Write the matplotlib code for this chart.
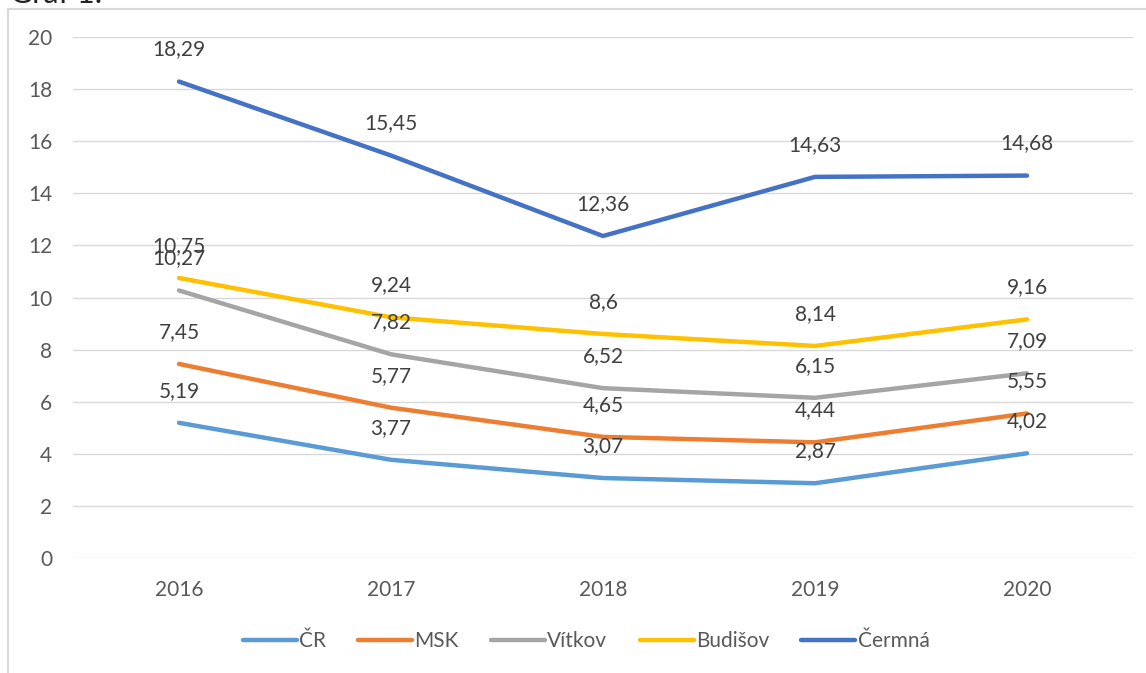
import matplotlib.pyplot as plt
from matplotlib.lines import Line2D

# ========== data ==========
YEARS = ["2016", "2017", "2018", "2019", "2020"]
CR = [5.19, 3.77, 3.07, 2.87, 4.02]
MSK = [7.45, 5.77, 4.65, 4.44, 5.55]
VITKOV = [10.27, 7.82, 6.52, 6.15, 7.09]
BUDISOV = [10.75, 9.24, 8.6, 8.14, 9.16]
CERMNA = [18.29, 15.45, 12.36, 14.63, 14.68]

SERIES = [
    ("ČR", CR, "#5B9BD5"),
    ("MSK", MSK, "#ED7D31"),
    ("Vítkov", VITKOV, "#A5A5A5"),
    ("Budišov", BUDISOV, "#FFC000"),
    ("Čermná", CERMNA, "#4472C4"),
]

TXT = "#595959"
GRID = "#D9D9D9"
FS = 15
plt.rcParams["font.family"] = ["Lato", "DejaVu Sans"]

W, H = 1146, 673
fig = plt.figure(figsize=(W / 100, H / 100), dpi=100)
ax = fig.add_axes([73 / W, 1 - 558 / H, (1133 - 73) / W, (558 - 37) / H])

x = list(range(len(YEARS)))
for name, vals, col in SERIES:
    ax.plot(x, vals, color=col, lw=3.2, solid_capstyle="round", zorder=3)
    for xi, v in zip(x, vals):
        ax.annotate(str(v).replace(".", ","), (xi, v), xytext=(0, 32),
                    textcoords="offset pixels", ha="center", va="center",
                    fontsize=FS, color="#404040", zorder=4)

ax.set_xlim(-0.5, len(YEARS) - 0.5)
ax.set_ylim(0, 20)
ax.set_yticks(range(0, 21, 2))
ax.set_xticks(x)
ax.set_xticklabels(YEARS)
ax.tick_params(length=0, labelsize=FS, labelcolor=TXT)
ax.tick_params(axis="y", pad=15)
ax.tick_params(axis="x", pad=16)
ax.grid(axis="y", color=GRID, lw=1)
ax.set_axisbelow(True)
for s in ax.spines.values():
    s.set_visible(False)

# legend
handles = [Line2D([0], [0], color=c, lw=3.2, solid_capstyle="round") for _, _, c in SERIES]
fig.legend(handles, [n for n, _, _ in SERIES], loc="center", ncol=5,
           bbox_to_anchor=(586 / W, 1 - 641 / H), frameon=False,
           fontsize=FS, labelcolor=TXT, handlelength=2.6, handletextpad=0.1,
           columnspacing=1.55)

# chart border (left + top)
fig.add_artist(Line2D([8 / W, 8 / W], [0, 1 - 9 / H], color=GRID, lw=1.5))
fig.add_artist(Line2D([8 / W, 1], [1 - 9 / H, 1 - 9 / H], color=GRID, lw=1.5))

# clipped caption above the chart
fig.text(10 / W, 1 - 3 / H, "Graf 1:", fontsize=22, color="#222222",
         ha="left", va="baseline")

fig.savefig("out.png", dpi=100)
